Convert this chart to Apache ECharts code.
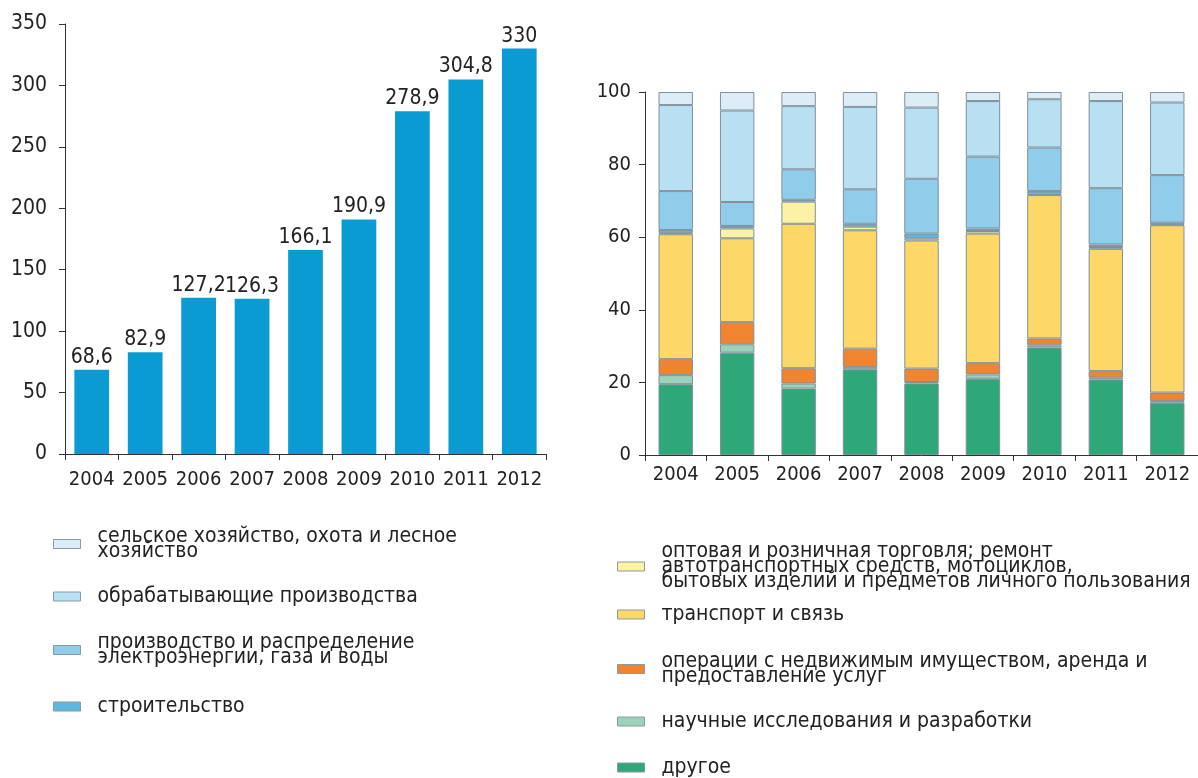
<!DOCTYPE html>
<html>
<head>
<meta charset="utf-8">
<script src="https://cdn.jsdelivr.net/npm/echarts@6/dist/echarts.min.js"></script>
<style>
  html, body { margin: 0; padding: 0; background: #fff; }
  #main { width: 1198px; height: 778px; }
</style>
</head>
<body>
<div id="main"></div>
<script>
  // годы
  var years = ['2004', '2005', '2006', '2007', '2008', '2009', '2010', '2011', '2012'];

  // левый график - объём инвестиций
  var totalValues = [68.6, 82.9, 127.2, 126.3, 166.1, 190.9, 278.9, 304.8, 330];

  // правый график - структура, % (снизу вверх)
  var drugoe      = [19.5, 28.2, 18.3, 23.6, 19.7, 21.0, 29.6, 20.8, 14.4];
  var nauka       = [2.5, 2.3, 1.4, 0.6, 0.4, 1.2, 0.6, 0.5, 0.5];
  var nedvizh     = [4.4, 6.1, 4.2, 5.1, 3.7, 3.1, 1.9, 1.8, 2.3];
  var transport   = [34.4, 23.1, 39.8, 32.6, 35.3, 35.7, 39.5, 33.7, 46.1];
  var torgovlya   = [0.4, 2.7, 6.1, 1.0, 0.6, 0.7, 0.4, 0.5, 0.2];
  var stroitelstvo = [0.8, 0.7, 0.5, 0.8, 1.3, 0.7, 0.7, 0.7, 0.5];
  var energo      = [10.7, 6.6, 8.4, 9.5, 15.1, 19.8, 12.0, 15.5, 13.1];
  var obrab       = [23.7, 25.2, 17.4, 22.7, 19.6, 15.3, 13.3, 24.0, 20.0];
  var selskoe     = [3.6, 5.1, 3.9, 4.1, 4.3, 2.5, 2.0, 2.5, 2.9];

  var leftTicks = [0, 50, 100, 150, 200, 250, 300, 350];
  var rightTicks = [0, 20, 40, 60, 80, 100];

  var font = '"Liberation Sans Narrow", "DejaVu Sans Condensed", "Liberation Sans", Arial, sans-serif';
  var textColor = '#222';

  // слои правого графика: имя, данные, цвет, положение в легенде
  var layers = [
    { name: 'другое', data: drugoe, color: '#2ea878', side: 'right', top: 757 },
    { name: 'научные исследования и разработки', data: nauka, color: '#9dd2ba', side: 'right', top: 711 },
    { name: 'операции с недвижимым имуществом, аренда и\nпредоставление услуг', data: nedvizh, color: '#ef8530', side: 'right', top: 651 },
    { name: 'транспорт и связь', data: transport, color: '#fdd866', side: 'right', top: 604 },
    { name: 'оптовая и розничная торговля; ремонт\nавтотранспортных средств, мотоциклов,\nбытовых изделий и предметов личного пользования', data: torgovlya, color: '#fbf3a3', side: 'right', top: 541 },
    { name: 'строительство', data: stroitelstvo, color: '#5eb7df', side: 'left', top: 696 },
    { name: 'производство и распределение\nэлектроэнергии, газа и воды', data: energo, color: '#90cdea', side: 'left', top: 632 },
    { name: 'обрабатывающие производства', data: obrab, color: '#b9dff2', side: 'left', top: 586 },
    { name: 'сельское хозяйство, охота и лесное\nхозяйство', data: selskoe, color: '#dcedf8', side: 'left', top: 526 }
  ];

  var myChart = echarts.init(document.getElementById('main'));

  var axisLine = { show: true, lineStyle: { color: '#333', width: 1 } };

  var series = [
    {
      name: 'total',
      type: 'bar',
      xAxisIndex: 0,
      yAxisIndex: 0,
      data: totalValues,
      barWidth: '65%',
      itemStyle: { color: '#0b9bd3' },
      label: {
        show: true,
        position: 'top',
        distance: 2,
        color: textColor,
        fontFamily: font,
        fontSize: 21,
        formatter: function (p) {
          return String(p.value).replace('.', ',');
        }
      }
    }
  ];

  var legends = [];
  layers.forEach(function (l) {
    series.push({
      name: l.name,
      type: 'bar',
      stack: 'share',
      xAxisIndex: 1,
      yAxisIndex: 1,
      data: l.data,
      barWidth: '56%',
      itemStyle: { color: l.color, borderColor: '#7f909b', borderWidth: 1 }
    });
    legends.push({
      data: [l.name],
      left: l.side === 'left' ? 53 : 617,
      top: l.top,
      padding: 0,
      icon: 'rect',
      itemWidth: 27,
      itemHeight: 9,
      selectedMode: false,
      itemStyle: { borderColor: '#8a9aa5', borderWidth: 1 },
      textStyle: {
        fontFamily: font,
        fontSize: 21,
        lineHeight: 15,
        color: textColor,
        padding: [0, 0, 0, 12]
      }
    });
  });

  var option = {
    animation: false,
    backgroundColor: '#fff',
    legend: legends,
    grid: [
      { left: 65, top: 24, width: 481, height: 430 },
      { left: 645, top: 92, width: 560, height: 363 }
    ],
    xAxis: [
      {
        type: 'category',
        gridIndex: 0,
        data: years,
        axisLine: axisLine,
        axisTick: { show: true, length: 6, lineStyle: { color: '#333' } },
        axisLabel: { interval: 0, color: textColor, fontFamily: font, fontSize: 20, margin: 16 }
      },
      {
        type: 'category',
        gridIndex: 1,
        data: years,
        axisLine: axisLine,
        axisTick: { show: true, length: 6, lineStyle: { color: '#333' } },
        axisLabel: { interval: 0, color: textColor, fontFamily: font, fontSize: 20, margin: 10 }
      }
    ],
    yAxis: [
      {
        type: 'value',
        gridIndex: 0,
        min: leftTicks[0],
        max: leftTicks[leftTicks.length - 1],
        interval: 50,
        axisLine: axisLine,
        axisTick: { show: true, length: 6, lineStyle: { color: '#333' } },
        splitLine: { show: false },
        axisLabel: { color: textColor, fontFamily: font, fontSize: 21, margin: 18 }
      },
      {
        type: 'value',
        gridIndex: 1,
        min: rightTicks[0],
        max: rightTicks[rightTicks.length - 1],
        interval: 20,
        axisLine: axisLine,
        axisTick: { show: true, length: 6, lineStyle: { color: '#333' } },
        splitLine: { show: false },
        axisLabel: { color: textColor, fontFamily: font, fontSize: 20, margin: 14 }
      }
    ],
    series: series
  };

  myChart.setOption(option);
</script>
</body>
</html>
